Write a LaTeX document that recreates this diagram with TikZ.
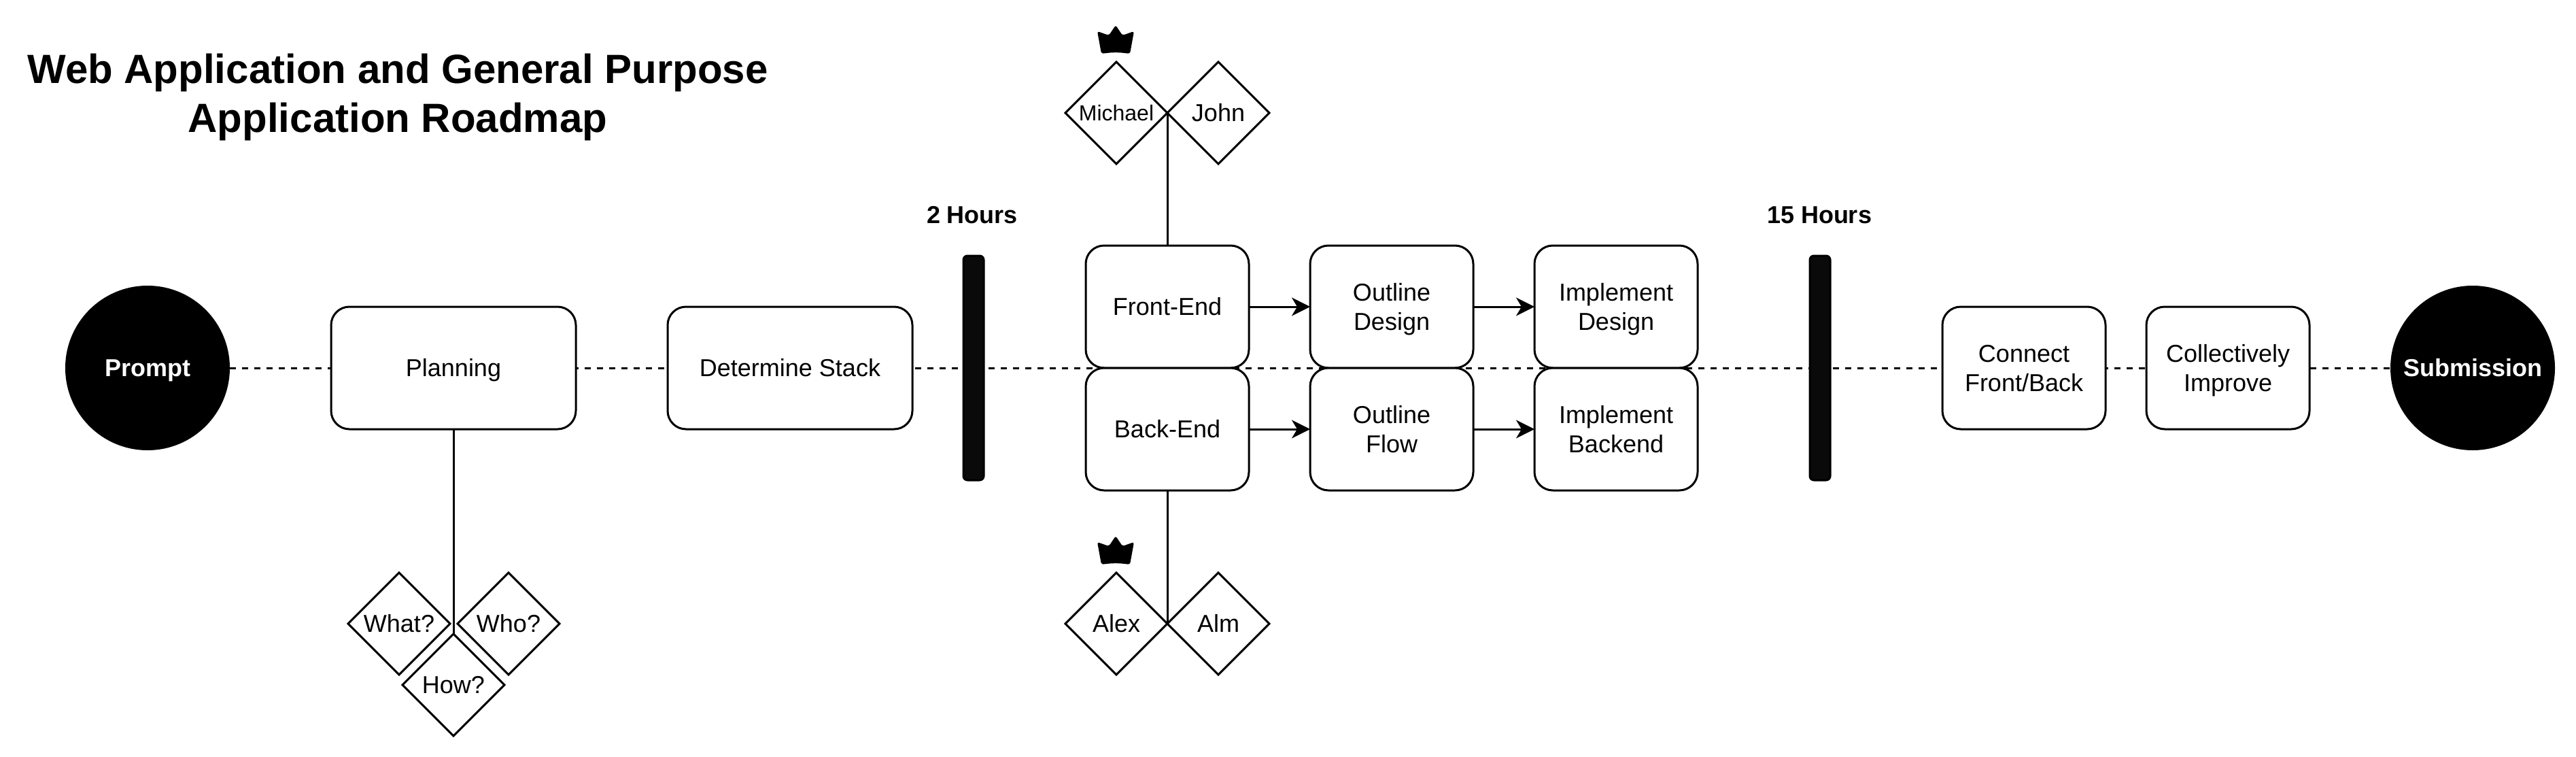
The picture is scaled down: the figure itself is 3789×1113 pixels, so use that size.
\documentclass[tikz,border=0pt]{standalone}
\usepackage{fontspec}
\setmainfont{Liberation Sans}
\usetikzlibrary{arrows.meta,shapes.geometric,backgrounds}

\def\s{0.25pt}
\def\ystrut{\rule[-.22em]{0pt}{1.156em}}
\def\crown#1#2{
	\fill[rounded corners=0.75pt,shift={(#1,#2)}] (-21,42) -- (-27,9) -- (-10,15) -- (0,0)
		-- (10,15) -- (27,9) -- (21,42) to[bend right=8] cycle;
}
\tikzset{
	label text/.style={execute at begin node=\ystrut,execute at end node=\ystrut},
	box/.style={label text,draw,fill=white,rounded corners=6.75pt,minimum width=60pt,minimum height=45pt,
		inner sep=0pt,outer sep=0pt,align=center,font=\fontsize{9}{10.8}\selectfont},
	widebox/.style={box,minimum width=90pt},
	rhomb/.style={label text,draw,fill=white,diamond,aspect=1,minimum width=37.5pt,minimum height=37.5pt,
		inner sep=0pt,outer sep=0pt,font=\fontsize{9}{10.8}\selectfont},
	endpoint/.style={label text,circle,fill=black,minimum size=60.5pt,inner sep=0pt,outer sep=0pt,text=white,
		font=\fontsize{9}{10.8}\selectfont\bfseries},
	bar/.style={draw,fill=black!96,rounded corners=1.5pt,minimum width=7.5pt,minimum height=82.5pt,
		inner sep=0pt,outer sep=0pt},
	hours/.style={label text,font=\fontsize{9}{10.8}\selectfont\bfseries},
	titel/.style={label text,align=center,font=\fontsize{15}{18}\selectfont\bfseries},
	dashline/.style={line width=0.75pt,dash pattern=on 2.25pt off 2.25pt}
}

\begin{document}
\begin{tikzpicture}[x=\s,y=-\s,line width=0.75pt,>={Stealth[length=6.75pt,width=6.75pt,inset=2pt]}]

\useasboundingbox (0,0) rectangle (3789,1113);

\node[titel] (title) at (585,137) {\ystrut Web Application and General Purpose\\Application Roadmap};

\node[endpoint] (prompt) at (217,541) {Prompt};
\node[widebox] (planning) at (667,541) {Planning};
\node[widebox] (stack) at (1162,541) {Determine Stack};
\node[bar] (bar1) at (1432,541) {};
\node[hours] (hours1) at (1430,316) {2 Hours};

\node[box] (front) at (1717,451) {Front-End};
\node[box] (back) at (1717,631) {Back-End};
\node[box] (design) at (2047,451) {\ystrut Outline\\Design};
\node[box] (flow) at (2047,631) {\ystrut Outline\\Flow};
\node[box] (impldesign) at (2377,451) {\ystrut Implement\\Design};
\node[box] (implback) at (2377,631) {\ystrut Implement\\Backend};

\node[bar] (bar2) at (2677,541) {};
\node[hours] (hours2) at (2676,316) {15 Hours};

\node[box] (connect) at (2977,541) {\ystrut Connect\\Front/Back};
\node[box] (improve) at (3277,541) {\ystrut Collectively\\Improve};
\node[endpoint] (submission) at (3637,541) {Submission};

\node[rhomb] (what) at (587,917) {What?};
\node[rhomb] (who) at (748,917) {Who?};
\node[rhomb] (how) at (667,1007) {How?};

\node[rhomb,font=\fontsize{8}{9.6}\selectfont] (michael) at (1642,166) {Michael};
\node[rhomb] (john) at (1792,166) {John};
\node[rhomb] (alex) at (1642,917) {Alex};
\node[rhomb] (alm) at (1792,917) {Alm};

\crown{1641}{37}
\crown{1641}{788}

\begin{scope}[on background layer]
	\draw[dashline] (prompt) -- (submission);
\end{scope}

\draw (planning.south) -- (how.north);
\draw (front.north) -- (michael.east);
\draw (back.south) -- (alex.east);

\draw[->] (front) -- (design);
\draw[->] (design) -- (impldesign);
\draw[->] (back) -- (flow);
\draw[->] (flow) -- (implback);

\end{tikzpicture}
\end{document}
